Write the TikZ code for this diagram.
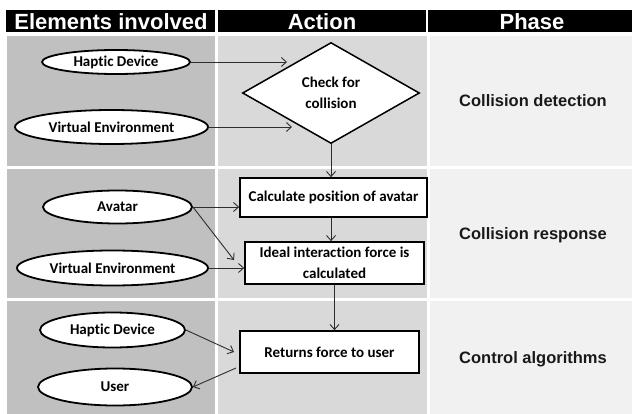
\documentclass[tikz,border=0pt]{standalone}
\usepackage{fontspec}
\setmainfont{Carlito}[Ligatures={NoCommon,NoContextual}]
\newfontfamily\hdfont{Liberation Sans}
\usetikzlibrary{shapes.geometric,arrows.meta}
\definecolor{colA}{RGB}{192,192,192}
\definecolor{colB}{RGB}{217,217,217}
\definecolor{colC}{RGB}{241,241,241}
\definecolor{linec}{RGB}{45,45,45}
\begin{document}
\begin{tikzpicture}[x=1pt,y=-1pt,
  ell/.style={ellipse,draw=black,line width=1.8pt,fill=white,inner sep=0pt,
    font=\bfseries\fontsize{15}{18}\selectfont},
  boxnode/.style={rectangle,draw=black,line width=1.7pt,fill=white,inner sep=0pt,
    align=center,font=\bfseries\fontsize{15}{21}\selectfont},
  arr/.style={draw=linec,line width=0.9pt,-{Straight Barb[length=5pt,width=9pt]}},
  hdr/.style={font=\hdfont\bfseries\fontsize{22}{24}\selectfont,text=white,inner sep=0pt},
  phase/.style={font=\hdfont\bfseries\fontsize{16.5}{20}\selectfont,text=black!90,inner sep=0pt}]
\useasboundingbox (0,0) rectangle (632,414);
\fill[white] (0,0) rectangle (632,414);
% header band
\fill[black] (6,10) rectangle (215,32);
\fill[black] (218,10) rectangle (426,32);
\fill[black] (428,10) rectangle (632,32);
% column backgrounds
\foreach \ya/\yb in {36/166, 169/298, 301/414}{
  \fill[colA] (7,\ya) rectangle (215,\yb);
  \fill[colB] (218,\ya) rectangle (427,\yb);
  \fill[colC] (430,\ya) rectangle (632,\yb);
}
% header texts
\node[hdr] (h1) at (111,21.5) {Elements involved};
\node[hdr] (h2) at (322,21.5) {Action};
\node[hdr] (h3) at (532,21.5) {Phase};
% phase texts
\node[phase] (p1) at (533,101) {Collision detection};
\node[phase] (p2) at (533,235) {Collision response};
\node[phase] (p3) at (533,359) {Control algorithms};
% elements
\node[ell,minimum width=148pt,minimum height=24pt] (hd1) at (116,62) {Haptic Device};
\node[ell,minimum width=193pt,minimum height=34pt] (ve1) at (111.5,127) {Virtual Environment};
\node[ell,minimum width=149pt,minimum height=33pt] (av) at (117.5,207) {Avatar};
\node[ell,minimum width=191pt,minimum height=35pt] (ve2) at (112.5,268) {Virtual Environment};
\node[ell,minimum width=145pt,minimum height=35pt] (hd2) at (112.5,330) {Haptic Device};
\node[ell,minimum width=154pt,minimum height=37pt] (us) at (115,387) {User};
% actions
\node[diamond,draw=black,line width=1.5pt,fill=white,inner sep=0pt,align=center,
  minimum width=177pt,minimum height=101pt,
  font=\bfseries\fontsize{15}{21}\selectfont] (dia) at (331,93) {Check for\\collision};
\node[boxnode,minimum width=187pt,minimum height=39pt] (b1) at (333.5,197.5) {Calculate position of avatar};
\node[boxnode,minimum width=179pt,minimum height=42pt] (b2) at (334.5,263) {Ideal interaction force is\\calculated};
\node[boxnode,minimum width=179pt,minimum height=42pt] (b3) at (329.5,352) {Returns force to user};
% free ends
\coordinate (t1) at (287,62);
\coordinate (t2) at (292,127);
\coordinate (t3) at (234,260);
\coordinate (t4) at (234,352);
\coordinate (s5) at (236,368);
% connectors
\draw[arr] (hd1.east) -- (t1);
\draw[arr] (ve1.east) -- (t2);
\draw[arr] (dia.south) -- (dia.south |- b1.north);
\draw[arr] (av.east) -- (av.east -| b1.west);
\draw[arr] (av.east) -- (t3);
\draw[arr] (ve2.east) -- (ve2.east -| b2.west);
\draw[arr] (b1.south -| dia.south) -- (dia.south |- b2.north);
\draw[arr] (b2.south) -- (b2.south |- b3.north);
\draw[arr] (hd2.east) -- (t4);
\draw[arr] (s5) -- (us.east);
\end{tikzpicture}
\end{document}
